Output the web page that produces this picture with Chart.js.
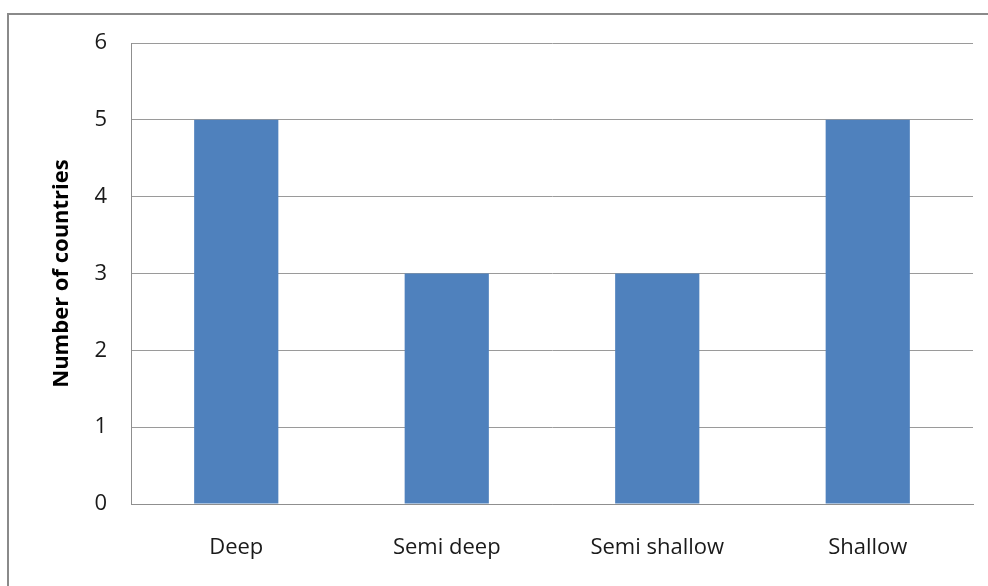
<!DOCTYPE html>
<html>
<head>
<meta charset="utf-8">
<script src="https://cdn.jsdelivr.net/npm/chart.js@4/dist/chart.umd.min.js"></script>
<style>
  html, body { margin: 0; padding: 0; background: #ffffff; }
  #wrap { position: relative; width: 988px; height: 586px; }
</style>
</head>
<body>
<div id="wrap"><canvas id="chart" width="988" height="586"></canvas></div>
<script>
// Country counts by depth class
const categories = ['Deep', 'Semi deep', 'Semi shallow', 'Shallow'];
const countries = [5, 3, 3, 5];
const yTicks = [0, 1, 2, 3, 4, 5, 6];

const FONT = '"Open Sans", Lato, "DejaVu Sans", sans-serif';

// Frame around the whole chart object
const framePlugin = {
  id: 'frame',
  beforeDraw(chart) {
    const ctx = chart.ctx;
    ctx.save();
    ctx.strokeStyle = '#8a8a8a';
    ctx.lineWidth = 2;
    ctx.beginPath();
    ctx.moveTo(8, 600);
    ctx.lineTo(8, 14);
    ctx.lineTo(1000, 14);
    ctx.stroke();
    ctx.restore();
  }
};

new Chart(document.getElementById('chart'), {
  type: 'bar',
  data: {
    labels: categories,
    datasets: [{
      label: 'Number of countries',
      data: countries,
      backgroundColor: '#4F81BD',
      borderWidth: 0,
      barPercentage: 1.0,
      categoryPercentage: 0.4
    }]
  },
  options: {
    responsive: false,
    animation: false,
    devicePixelRatio: 1,
    layout: { padding: { left: 0, top: 43, right: 15, bottom: 0 } },
    plugins: {
      legend: { display: false },
      tooltip: { enabled: false }
    },
    scales: {
      x: {
        grid: { display: false, drawTicks: false },
        border: { display: true, color: '#8f8f8f', width: 1 },
        ticks: {
          color: '#1a1a1a',
          font: { family: FONT, size: 22 },
          padding: 31,
          maxRotation: 0
        },
        afterFit(scale) { scale.height = 82; }
      },
      y: {
        min: 0,
        max: 6,
        afterBuildTicks(scale) { scale.ticks = yTicks.map(v => ({ value: v })); },
        grid: { color: '#9a9a9a', lineWidth: 1, drawTicks: false },
        border: { display: true, color: '#8f8f8f', width: 1 },
        ticks: {
          color: '#1a1a1a',
          font: { family: FONT, size: 22 },
          padding: 24
        },
        title: {
          display: true,
          text: 'Number of countries',
          color: '#000000',
          font: { family: FONT, size: 22, weight: 'bold' },
          padding: { top: 49, bottom: 0 }
        },
        afterFit(scale) { scale.width = 131; }
      }
    }
  },
  plugins: [framePlugin]
});
</script>
</body>
</html>
